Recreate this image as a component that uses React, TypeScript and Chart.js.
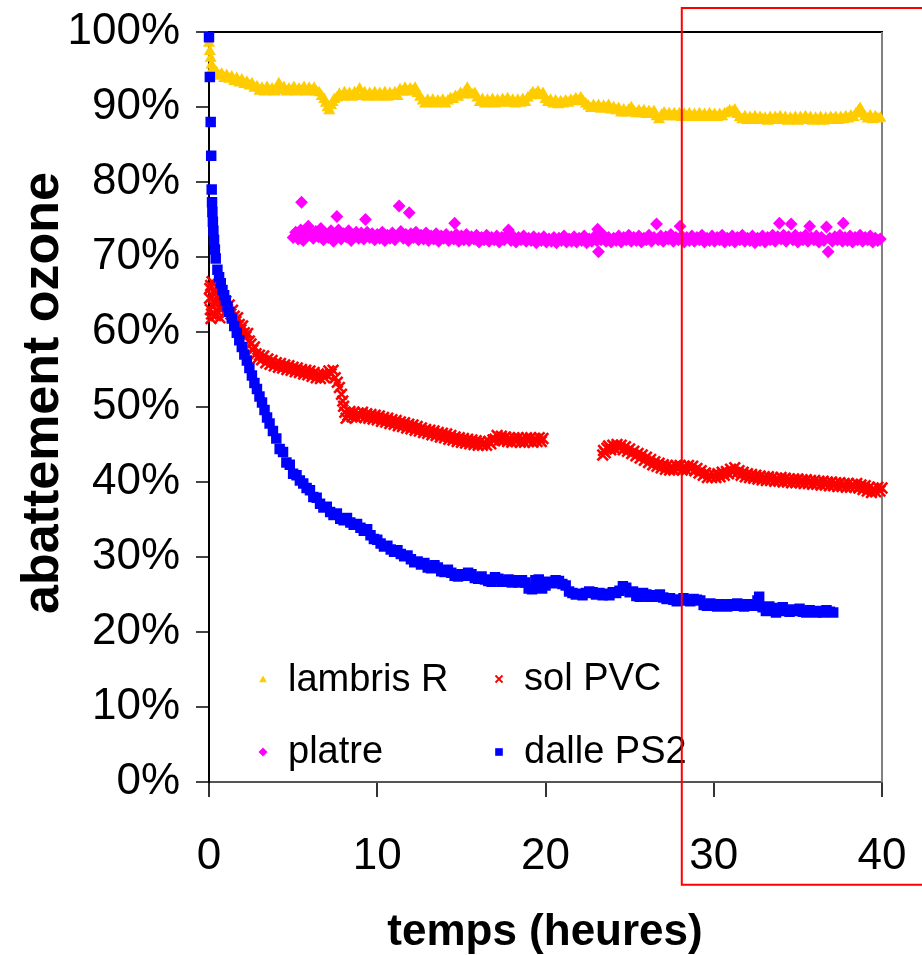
import React, { useEffect, useRef } from 'react';
import { Chart, registerables } from 'chart.js';

Chart.register(...registerables);

// ---- data: [hours, % ozone abatement] ----
const lambrisR: [number, number][] = [
  [0,98.5],[0.05,97.4],[0.1,96.5],[0.15,95.6],[0.2,95.0],[0.3,94.5],[0.45,94.6],[0.6,94.1],[0.75,94.4],[0.9,93.8],
  [1.05,94.2],[1.2,93.7],[1.35,94.0],[1.5,93.4],[1.65,93.8],[1.8,93.2],[1.95,93.6],[2.1,93.0],[2.25,93.3],[2.4,92.8],
  [2.55,93.1],[2.7,92.5],[2.85,92.7],[3.0,92.1],[3.15,92.5],[3.3,92.0],[3.45,92.6],[3.6,92.1],[3.75,92.4],[3.9,92.0],
  [4.05,92.6],[4.15,93.1],[4.3,92.2],[4.45,92.6],[4.6,92.0],[4.75,92.4],[4.9,92.1],[5.05,92.6],[5.2,92.0],[5.35,92.4],
  [5.5,92.1],[5.65,92.6],[5.8,92.0],[5.95,92.5],[6.1,92.1],[6.25,92.5],[6.4,92.0],[6.55,91.9],[6.7,91.4],[6.85,91.0],
  [6.95,90.5],[7.05,89.9],[7.15,89.5],[7.25,90.2],[7.35,90.6],[7.45,91.0],[7.6,91.2],[7.75,91.7],[7.9,91.3],[8.05,91.9],
  [8.2,91.4],[8.35,91.8],[8.5,91.3],[8.65,91.9],[8.8,91.5],[8.95,92.4],[9.1,91.4],[9.25,91.9],[9.4,91.3],[9.55,91.8],
  [9.7,91.4],[9.85,91.9],[10.0,91.3],[10.15,91.8],[10.3,91.4],[10.45,91.9],[10.6,91.3],[10.75,91.8],[10.9,91.5],[11.05,91.9],
  [11.2,91.4],[11.35,92.3],[11.5,92.0],[11.65,92.5],[11.8,92.0],[11.95,92.4],[12.1,92.1],[12.25,92.5],[12.4,91.8],[12.55,91.3],
  [12.7,90.8],[12.85,90.4],[13.0,90.9],[13.15,90.5],[13.3,90.9],[13.45,90.4],[13.6,90.8],[13.75,90.5],[13.9,90.9],[14.05,90.4],
  [14.2,90.8],[14.35,91.1],[14.5,91.0],[14.65,91.4],[14.8,91.3],[14.95,91.8],[15.1,91.6],[15.25,92.1],[15.35,92.5],[15.5,91.9],
  [15.65,91.6],[15.8,91.8],[15.95,91.2],[16.1,90.6],[16.25,91.0],[16.4,90.4],[16.55,90.9],[16.7,90.5],[16.85,91.0],[17.0,90.4],
  [17.15,90.9],[17.3,90.5],[17.45,91.0],[17.6,90.6],[17.75,91.1],[17.9,90.5],[18.05,90.9],[18.2,90.4],[18.35,90.9],[18.5,90.5],
  [18.65,91.0],[18.8,90.6],[18.95,91.2],[19.1,91.5],[19.25,91.9],[19.4,91.6],[19.55,92.0],[19.7,91.5],[19.85,91.8],[20.0,91.0],
  [20.15,90.6],[20.3,90.9],[20.45,90.4],[20.6,90.8],[20.75,90.3],[20.9,90.7],[21.05,90.4],[21.2,90.8],[21.35,90.5],[21.5,90.9],
  [21.65,90.7],[21.8,91.1],[21.95,90.8],[22.1,91.2],[22.25,90.7],[22.4,90.4],[22.55,90.1],[22.7,89.8],[22.85,90.2],[23.0,89.8],
  [23.15,90.2],[23.3,89.7],[23.45,90.1],[23.6,89.8],[23.75,90.2],[23.9,89.6],[24.05,89.9],[24.2,89.5],[24.35,89.8],[24.5,89.2],
  [24.65,89.6],[24.8,89.2],[24.95,89.6],[25.1,89.9],[25.25,89.4],[25.4,89.1],[25.55,89.5],[25.7,89.1],[25.85,89.5],[26.0,89.0],
  [26.15,89.4],[26.3,89.0],[26.45,89.4],[26.6,88.7],[26.75,88.3],[26.9,88.9],[27.05,89.2],[27.2,88.7],[27.35,89.1],[27.5,88.7],
  [27.65,89.1],[27.8,88.7],[27.95,89.1],[28.1,88.6],[28.25,89.0],[28.4,88.7],[28.55,89.1],[28.7,88.6],[28.85,89.0],[29.0,88.6],
  [29.15,89.1],[29.3,88.7],[29.45,89.0],[29.6,88.6],[29.75,89.1],[29.9,88.7],[30.05,89.0],[30.2,88.6],[30.35,89.0],[30.5,88.7],
  [30.65,89.1],[30.8,89.2],[30.95,89.5],[31.1,89.3],[31.25,89.6],[31.4,89.0],[31.55,88.6],[31.7,88.3],[31.85,88.7],[32.0,88.2],
  [32.15,88.6],[32.3,88.3],[32.45,88.7],[32.6,88.2],[32.75,88.6],[32.9,88.3],[33.05,88.5],[33.2,88.1],[33.35,88.6],[33.5,88.2],
  [33.65,88.6],[33.8,88.3],[33.95,88.7],[34.1,88.2],[34.25,88.6],[34.4,88.1],[34.55,88.5],[34.7,88.2],[34.85,88.6],[35.0,88.1],
  [35.15,88.6],[35.3,88.2],[35.45,88.7],[35.6,88.3],[35.75,88.6],[35.9,88.1],[36.05,88.5],[36.2,88.2],[36.35,88.6],[36.5,88.1],
  [36.65,88.5],[36.8,88.2],[36.95,88.6],[37.1,88.3],[37.25,88.6],[37.4,88.2],[37.55,88.6],[37.7,88.3],[37.85,88.7],[38.0,88.4],
  [38.15,88.8],[38.3,88.6],[38.45,89.1],[38.6,89.5],[38.7,89.8],[38.85,89.1],[39.0,88.7],[39.15,88.4],[39.3,88.8],[39.45,88.3],
  [39.6,88.7],[39.75,88.4],[39.9,88.5]
];

const solPVC: [number, number][] = [
  [0.03,64.5],[0.05,65.8],[0.08,63],[0.1,66.2],[0.12,61.8],[0.15,62.4],[0.18,66.7],[0.2,64.8],[0.25,63.5],[0.3,65.5],
  [0.35,64],[0.4,62.2],[0.45,66],[0.5,64.6],[0.55,62.6],[0.6,63.2],[0.65,61.9],[0.7,65.2],[0.75,63.5],[0.8,64],
  [0.9,63.4],[1,64.1],[1.1,63],[1.2,63.6],[1.3,62.4],[1.4,62.9],[1.5,62.1],[1.6,61.4],[1.7,61.9],[1.8,61],
  [1.9,60.3],[2,60.8],[2.1,59.9],[2.2,59.4],[2.3,59.8],[2.4,58.8],[2.5,58.4],[2.6,57.6],[2.7,58],[2.8,57.1],
  [2.9,56.5],[3.0,56.9],[3.125,56.3],[3.25,56.8],[3.375,55.9],[3.5,56.4],[3.625,55.7],[3.75,56.2],[3.875,55.5],[4.0,55.9],
  [4.125,55.3],[4.25,55.8],[4.375,55.2],[4.5,55.6],[4.625,55.0],[4.75,55.5],[4.875,54.9],[5.0,55.3],[5.125,54.7],[5.25,55.2],
  [5.375,54.6],[5.5,55.0],[5.625,54.4],[5.75,54.9],[5.875,54.3],[6.0,54.8],[6.125,54.1],[6.25,54.6],[6.375,53.9],[6.5,54.4],
  [6.625,53.8],[6.75,54.4],[6.875,53.9],[7.0,54.3],[7.125,54.8],[7.25,54.4],[7.375,54.9],[7.5,53.9],[7.625,53.3],[7.75,52.6],
  [7.875,51.7],[7.95,50.8],[8.0,50.1],[8.075,49.3],[8.15,48.5],[8.25,48.9],[8.375,49.4],[8.5,48.7],[8.625,49.3],[8.75,48.6],
  [8.875,49.2],[9.0,48.7],[9.125,49.3],[9.25,48.6],[9.375,49.1],[9.5,48.5],[9.625,49.0],[9.75,48.4],[9.875,48.9],[10.0,48.3],
  [10.125,48.8],[10.25,48.1],[10.375,48.6],[10.5,48.0],[10.625,48.5],[10.75,47.8],[10.875,48.3],[11.0,47.7],[11.125,48.2],[11.25,47.5],
  [11.375,48.0],[11.5,47.4],[11.625,47.9],[11.75,47.2],[11.875,47.7],[12.0,47.1],[12.125,47.6],[12.25,46.9],[12.375,47.4],[12.5,46.8],
  [12.625,47.2],[12.75,46.6],[12.875,47.0],[13.0,46.5],[13.125,46.9],[13.25,46.3],[13.375,46.8],[13.5,46.2],[13.625,46.6],[13.75,46.0],
  [13.875,46.5],[14.0,45.9],[14.125,46.4],[14.25,45.7],[14.375,46.2],[14.5,45.6],[14.625,46.0],[14.75,45.4],[14.875,45.9],[15.0,45.3],
  [15.125,45.8],[15.25,45.2],[15.375,45.7],[15.5,45.1],[15.625,45.6],[15.75,45.0],[15.875,45.5],[16.0,44.9],[16.125,45.4],[16.25,44.9],
  [16.375,45.3],[16.5,44.9],[16.625,45.4],[16.75,45.1],[16.875,45.6],[17.0,45.7],[17.125,46.2],[17.25,45.6],[17.375,46.1],[17.5,45.5],
  [17.625,46.0],[17.75,45.4],[17.875,45.9],[18.0,45.3],[18.125,45.9],[18.25,45.4],[18.375,45.9],[18.5,45.3],[18.625,45.8],[18.75,45.3],
  [18.875,45.9],[19.0,45.4],[19.125,45.9],[19.25,45.3],[19.375,45.8],[19.5,45.4],[19.625,45.9],[19.75,45.4],[19.85,45.8],
  [23.4,43.6],[23.45,44.2],[23.55,43.9],[23.65,44.5],[23.75,44.8],[23.875,44.3],[24.0,44.9],[24.125,44.4],[24.25,45.0],[24.375,44.5],
  [24.5,44.9],[24.625,44.3],[24.75,44.7],[24.875,44.1],[25.0,44.4],[25.125,43.8],[25.25,44.1],[25.375,43.5],[25.5,43.8],[25.625,43.2],
  [25.75,43.6],[25.875,42.9],[26.0,43.3],[26.125,42.6],[26.25,43.0],[26.375,42.3],[26.5,42.7],[26.625,42.1],[26.75,42.5],[26.875,41.9],
  [27.0,42.3],[27.125,41.7],[27.25,42.2],[27.375,41.6],[27.5,42.1],[27.625,41.6],[27.75,42.2],[27.875,41.7],[28.0,42.2],[28.125,41.6],
  [28.25,42.1],[28.375,41.6],[28.5,42.2],[28.625,41.7],[28.75,42.1],[28.875,41.5],[29.0,41.8],[29.125,41.2],[29.25,41.5],[29.375,40.9],
  [29.5,41.2],[29.625,40.6],[29.75,41.0],[29.875,40.6],[30.0,41.0],[30.125,40.6],[30.25,41.1],[30.375,40.7],[30.5,41.3],[30.625,40.9],
  [30.75,41.4],[30.875,41.1],[31.0,41.7],[31.125,41.3],[31.25,41.9],[31.375,41.2],[31.5,41.5],[31.625,40.9],[31.75,41.3],[31.875,40.7],
  [32.0,41.1],[32.125,40.6],[32.25,41.0],[32.375,40.5],[32.5,40.9],[32.625,40.4],[32.75,40.8],[32.875,40.3],[33.0,40.7],[33.125,40.2],
  [33.25,40.7],[33.375,40.2],[33.5,40.6],[33.625,40.1],[33.75,40.5],[33.875,40.1],[34.0,40.6],[34.125,40.0],[34.25,40.5],[34.375,40.0],
  [34.5,40.4],[34.625,39.9],[34.75,40.4],[34.875,39.9],[35.0,40.4],[35.125,39.9],[35.25,40.3],[35.375,39.8],[35.5,40.3],[35.625,39.8],
  [35.75,40.2],[35.875,39.7],[36.0,40.2],[36.125,39.7],[36.25,40.1],[36.375,39.6],[36.5,40.1],[36.625,39.6],[36.75,40.0],[36.875,39.5],
  [37.0,40.0],[37.125,39.5],[37.25,39.9],[37.375,39.4],[37.5,39.9],[37.625,39.4],[37.75,39.8],[37.875,39.3],[38.0,39.8],[38.125,39.3],
  [38.25,39.7],[38.375,39.3],[38.5,39.8],[38.625,39.2],[38.75,39.6],[38.875,39.0],[39.0,39.5],[39.125,38.8],[39.25,39.3],[39.375,38.6],
  [39.5,39.1],[39.625,38.7],[39.75,39.3],[39.875,38.8],[40.0,39.2]
];

const platre: [number, number][] = [
  [5.0,72.6],[5.15,73.3],[5.3,72.4],[5.45,73.6],[5.5,77.3],[5.6,72.2],[5.75,73.1],[5.9,74.1],[6.05,72.9],[6.2,72.5],
  [6.35,73.4],[6.5,72.7],[6.65,73.8],[6.8,72.3],[6.95,73.0],[7.1,72.6],[7.25,73.5],[7.4,72.1],[7.55,72.9],[7.6,75.4],
  [7.7,73.6],[7.85,72.4],[8.0,73.1],[8.15,72.7],[8.3,73.5],[8.45,72.2],[8.6,72.8],[8.75,73.3],[8.9,72.5],[9.05,73.2],
  [9.2,72.4],[9.3,75.0],[9.4,73.3],[9.55,72.6],[9.7,73.1],[9.85,72.3],[10.0,73.0],[10.15,72.5],[10.3,73.3],[10.45,72.2],
  [10.6,72.9],[10.75,72.5],[10.9,73.2],[11.05,72.3],[11.2,72.8],[11.3,76.8],[11.4,73.4],[11.55,72.5],[11.7,73.0],[11.85,72.2],
  [11.9,75.9],[12.0,73.1],[12.15,72.6],[12.3,73.3],[12.45,72.3],[12.6,72.9],[12.75,72.4],[12.9,73.2],[13.05,72.2],[13.2,72.8],
  [13.35,72.4],[13.5,73.1],[13.65,72.1],[13.8,72.8],[13.95,72.5],[14.1,73.0],[14.25,72.2],[14.4,72.7],[14.55,72.4],[14.6,74.5],
  [14.7,73.0],[14.85,72.1],[15.0,72.8],[15.15,72.3],[15.3,73.0],[15.45,72.2],[15.6,72.7],[15.75,72.4],[15.9,72.9],[16.05,72.0],
  [16.2,72.6],[16.35,72.3],[16.5,72.9],[16.65,72.1],[16.8,72.6],[16.95,72.3],[17.1,72.8],[17.25,72.0],[17.4,72.6],[17.55,72.3],
  [17.7,72.9],[17.8,73.6],[17.95,72.2],[18.1,72.7],[18.25,72.0],[18.4,72.6],[18.55,72.3],[18.7,72.8],[18.85,72.1],[19.0,72.5],
  [19.15,72.2],[19.3,72.7],[19.45,71.9],[19.6,72.5],[19.75,72.2],[19.9,72.7],[20.05,72.0],[20.2,72.4],[20.35,72.1],[20.5,72.6],
  [20.65,71.9],[20.8,72.5],[20.95,72.2],[21.1,72.8],[21.25,72.0],[21.4,72.4],[21.55,72.1],[21.7,72.7],[21.85,72.0],[22.0,72.5],
  [22.15,72.2],[22.3,72.8],[22.45,71.9],[22.6,72.4],[22.75,72.1],[22.9,72.7],[23.05,72.2],[23.1,73.7],[23.15,70.7],[23.3,72.3],
  [23.45,72.9],[23.6,72.1],[23.75,72.6],[23.9,72.0],[24.05,72.5],[24.2,72.2],[24.35,72.8],[24.5,72.0],[24.65,72.6],[24.8,72.3],
  [24.95,72.9],[25.1,72.1],[25.25,72.6],[25.4,72.2],[25.55,72.8],[25.7,72.0],[25.85,72.5],[26.0,72.3],[26.15,72.9],[26.3,72.1],
  [26.45,72.6],[26.6,74.4],[26.7,72.3],[26.85,72.8],[27.0,72.1],[27.15,72.7],[27.3,72.4],[27.45,73.0],[27.6,72.1],[27.75,72.6],
  [27.9,72.3],[28.0,74.1],[28.1,72.8],[28.25,72.0],[28.4,72.6],[28.55,72.2],[28.7,72.8],[28.85,72.1],[29.0,72.6],[29.15,72.3],
  [29.3,72.9],[29.45,72.0],[29.6,72.5],[29.75,72.2],[29.9,72.8],[30.05,72.1],[30.2,72.6],[30.35,72.3],[30.5,72.9],[30.65,72.0],
  [30.8,72.5],[30.95,72.2],[31.1,72.8],[31.25,72.0],[31.4,72.6],[31.55,72.3],[31.7,72.9],[31.85,72.1],[32.0,72.5],[32.15,72.2],
  [32.3,72.8],[32.45,71.9],[32.6,72.5],[32.75,72.2],[32.9,72.8],[33.05,72.0],[33.2,72.6],[33.35,72.3],[33.5,72.9],[33.65,72.1],
  [33.8,72.7],[33.9,74.5],[34.0,72.4],[34.15,72.9],[34.3,72.1],[34.45,72.7],[34.6,74.4],[34.7,72.3],[34.85,72.9],[35.0,72.0],
  [35.15,72.6],[35.3,72.3],[35.45,72.9],[35.6,72.1],[35.7,74.1],[35.8,72.6],[35.95,72.3],[36.1,72.8],[36.25,72.0],[36.4,72.6],
  [36.55,72.2],[36.7,74.0],[36.8,70.7],[36.9,72.5],[37.05,72.1],[37.2,72.7],[37.35,72.3],[37.5,72.9],[37.65,72.1],[37.7,74.5],
  [37.8,72.6],[37.95,72.2],[38.1,72.8],[38.25,72.0],[38.4,72.6],[38.55,72.3],[38.7,72.9],[38.85,72.1],[39.0,72.6],[39.15,72.3],
  [39.3,72.8],[39.45,72.0],[39.6,72.5],[39.75,72.2],[39.9,72.4]
];

const dallePS2: [number, number][] = [
  [0,99.3],[0.05,94],[0.1,88],[0.13,83.5],[0.16,79],[0.18,77.3],[0.2,76],[0.23,74.7],[0.26,73.5],[0.3,72.3],
  [0.35,71],[0.4,69.8],[0.5,68.3],[0.6,67.3],[0.7,66.5],[0.8,65.6],[0.9,64.9],[1,64.2],[1.1,63.4],[1.2,62.7],
  [1.35,61.8],[1.5,60.8],[1.65,59.9],[1.8,58.9],[1.95,58],[2.1,57],[2.25,56.2],[2.4,55.2],[2.55,54.2],[2.7,53.2],
  [2.85,52.4],[3,51.4],[3.15,50.6],[3.3,49.6],[3.45,48.6],[3.6,47.8],[3.8,46.8],[4.0,45.8],[4.2,44.4],[4.4,44.0],
  [4.6,42.6],[4.8,42.3],[5.0,41.1],[5.2,40.9],[5.4,40.2],[5.6,39.8],[5.8,39.2],[6.0,38.9],[6.2,38.0],[6.4,37.9],
  [6.6,37.1],[6.8,36.6],[7.0,36.7],[7.2,36.0],[7.4,35.6],[7.6,35.8],[7.8,35.1],[8.0,34.9],[8.2,35.2],[8.4,34.6],
  [8.6,34.3],[8.8,34.4],[9.0,33.9],[9.2,33.5],[9.4,33.7],[9.6,32.9],[9.8,32.4],[10.0,32.3],[10.2,31.8],[10.4,31.4],
  [10.6,31.5],[10.8,31.0],[11.0,30.7],[11.2,30.9],[11.4,30.4],[11.6,30.1],[11.8,30.2],[12.0,29.7],[12.2,29.3],[12.4,29.4],
  [12.6,29.0],[12.8,29.2],[13.0,28.6],[13.2,28.5],[13.4,28.9],[13.6,28.6],[13.8,28.1],[14.0,28.0],[14.2,28.3],[14.4,27.9],
  [14.6,27.5],[14.8,27.4],[15.0,27.7],[15.2,27.5],[15.4,27.9],[15.6,27.7],[15.8,27.2],[16.0,27.1],[16.2,27.4],[16.4,27.0],
  [16.6,26.8],[16.8,26.7],[17.0,27.3],[17.2,27.1],[17.4,26.7],[17.6,26.8],[17.8,27.0],[18.0,26.6],[18.2,26.9],[18.4,26.6],
  [18.6,26.9],[18.8,26.6],[19.0,25.8],[19.2,25.7],[19.4,26.9],[19.6,27.0],[19.8,25.8],[20.0,26.2],[20.2,26.7],[20.4,26.5],
  [20.6,26.9],[20.8,26.8],[21.0,26.4],[21.2,26.2],[21.4,25.4],[21.6,25.2],[21.8,25.0],[22.0,25.1],[22.2,24.9],[22.4,25.2],
  [22.6,25.4],[22.8,25.3],[23.0,25.0],[23.2,25.2],[23.4,24.9],[23.6,25.1],[23.8,24.9],[24.0,25.3],[24.2,25.2],[24.4,25.5],
  [24.6,26.1],[24.8,25.9],[25.0,25.3],[25.2,25.4],[25.4,24.8],[25.6,24.7],[25.8,25.2],[26.0,25.0],[26.2,24.7],[26.4,24.9],
  [26.6,24.7],[26.8,25.0],[27.0,24.6],[27.2,24.4],[27.4,24.5],[27.6,24.3],[27.8,24.1],[28.0,24.3],[28.2,24.5],[28.4,24.2],
  [28.6,24.1],[28.8,24.4],[29.0,24.3],[29.2,24.2],[29.4,23.6],[29.6,23.5],[29.8,23.8],[30.0,23.6],[30.2,23.4],[30.4,23.7],
  [30.6,23.6],[30.8,23.4],[31.0,23.7],[31.2,23.5],[31.4,23.8],[31.6,23.5],[31.8,23.4],[32.0,23.7],[32.2,23.6],[32.4,23.5],
  [32.6,24.2],[32.7,24.7],[32.9,23.3],[33.1,22.8],[33.3,23.4],[33.5,23.2],[33.7,22.6],[33.9,22.8],[34.1,23.3],[34.3,22.9],
  [34.5,22.7],[34.7,23.0],[34.9,22.8],[35.1,23.1],[35.3,22.7],[35.5,22.6],[35.7,22.9],[35.9,22.7],[36.1,22.6],[36.3,22.8],
  [36.5,22.6],[36.7,22.9],[36.9,22.7],[37.1,22.6]
];

const seriesNames = ['lambris R', 'sol PVC', 'platre', 'dalle PS2'];
const xRange = [0, 40];
const yRange = [0, 100];
const xStep = 10;
const yStep = 10;
const xTitle = 'temps (heures)';
const yTitle = 'abattement ozone';
// highlighted region (data units): hours from/to, % from/to
const highlightX = [28.1, 43];
const highlightY = [103.2, -13.7];

const FONT = "'Liberation Sans', Arial, sans-serif";
const COLORS = { lambris: '#FFCC00', sol: '#FF0000', platre: '#FF00FF', dalle: '#0000FF' };

const toPts = (arr: [number, number][]) => arr.map(([x, y]) => ({ x, y }));

function drawMarker(ctx: CanvasRenderingContext2D, kind: string, x: number, y: number, s: number, color: string) {
  ctx.save();
  ctx.fillStyle = color;
  ctx.strokeStyle = color;
  ctx.beginPath();
  if (kind === 'triangle') {
    ctx.moveTo(x, y - s);
    ctx.lineTo(x + s * 0.87, y + s * 0.5);
    ctx.lineTo(x - s * 0.87, y + s * 0.5);
    ctx.closePath();
    ctx.fill();
  } else if (kind === 'cross') {
    ctx.lineWidth = 1.8;
    ctx.moveTo(x - s, y - s); ctx.lineTo(x + s, y + s);
    ctx.moveTo(x + s, y - s); ctx.lineTo(x - s, y + s);
    ctx.stroke();
  } else if (kind === 'diamond') {
    ctx.moveTo(x, y - s); ctx.lineTo(x + s, y); ctx.lineTo(x, y + s); ctx.lineTo(x - s, y);
    ctx.closePath();
    ctx.fill();
  } else {
    ctx.fillRect(x - s, y - s, 2 * s, 2 * s);
  }
  ctx.restore();
}

const decorPlugin = {
  id: 'decor',
  beforeDatasetsDraw(chart: any) {
    const { ctx, chartArea: a } = chart;
    ctx.save();
    ctx.lineWidth = 2;
    ctx.strokeStyle = '#000';
    ctx.beginPath(); ctx.moveTo(a.left, a.top); ctx.lineTo(a.right + 1, a.top); ctx.stroke();
    ctx.strokeStyle = '#808080';
    ctx.beginPath(); ctx.moveTo(a.right, a.top); ctx.lineTo(a.right, a.bottom); ctx.stroke();
    ctx.restore();
  },
  afterDraw(chart: any) {
    const { ctx, scales } = chart;
    const xs = scales.x, ys = scales.y;
    ctx.save();
    // legend
    const items = [
      { kind: 'triangle', color: COLORS.lambris, mx: 263, my: 680, s: 4.5 },
      { kind: 'cross', color: COLORS.sol, mx: 499, my: 679, s: 3.5 },
      { kind: 'diamond', color: COLORS.platre, mx: 263, my: 752, s: 4.5 },
      { kind: 'square', color: COLORS.dalle, mx: 499, my: 752, s: 3.8 },
    ];
    ctx.font = `38px ${FONT}`;
    ctx.fillStyle = '#000';
    ctx.textBaseline = 'middle';
    ctx.textAlign = 'left';
    items.forEach((it, i) => {
      drawMarker(ctx, it.kind, it.mx, it.my, it.s, it.color);
      ctx.fillStyle = '#000';
      ctx.fillText(seriesNames[i], it.mx + 25, it.my + 1);
    });
    // axis titles
    ctx.font = `bold 44px ${FONT}`;
    ctx.textAlign = 'center';
    ctx.textBaseline = 'alphabetic';
    ctx.fillText(xTitle, 545, 945);
    ctx.save();
    ctx.translate(58, 393);
    ctx.rotate(-Math.PI / 2);
    ctx.font = `bold 52px ${FONT}`;
    ctx.fillText(yTitle, 0, 0);
    ctx.restore();
    // highlight rectangle
    const x1 = xs.getPixelForValue(highlightX[0]);
    const x2 = xs.getPixelForValue(highlightX[1]);
    const y1 = ys.getPixelForValue(highlightY[0]);
    const y2 = ys.getPixelForValue(highlightY[1]);
    ctx.strokeStyle = '#FF0000';
    ctx.lineWidth = 2;
    ctx.strokeRect(x1, y1, x2 - x1, y2 - y1);
    ctx.restore();
  },
};

export default function App() {
  const ref = useRef<HTMLCanvasElement | null>(null);
  useEffect(() => {
    if (!ref.current) return;
    const chart = new Chart(ref.current, {
      type: 'scatter',
      data: {
        datasets: [
          {
            label: seriesNames[3], data: toPts(dallePS2), pointStyle: 'rect', pointRadius: 7.4,
            backgroundColor: COLORS.dalle, borderColor: COLORS.dalle, borderWidth: 0, clip: false as any,
          },
          {
            label: seriesNames[1], data: toPts(solPVC), pointStyle: 'crossRot', pointRadius: 7.5,
            backgroundColor: COLORS.sol, borderColor: COLORS.sol, borderWidth: 2.6, clip: false as any,
          },
          {
            label: seriesNames[2], data: toPts(platre), pointStyle: 'rectRot', pointRadius: 6.4,
            backgroundColor: COLORS.platre, borderColor: COLORS.platre, borderWidth: 0, clip: false as any,
          },
          {
            label: seriesNames[0], data: toPts(lambrisR), pointStyle: 'triangle', pointRadius: 7,
            backgroundColor: COLORS.lambris, borderColor: COLORS.lambris, borderWidth: 0, clip: false as any,
          },
        ],
      },
      options: {
        animation: false,
        responsive: false,
        maintainAspectRatio: false,
        events: [],
        layout: { autoPadding: false, padding: { left: 0, top: 32, right: 40, bottom: 0 } },
        plugins: { legend: { display: false }, tooltip: { enabled: false }, title: { display: false } },
        scales: {
          x: {
            type: 'linear', min: xRange[0], max: xRange[1],
            ticks: {
              stepSize: xStep, autoSkip: false, maxRotation: 0, padding: 33, color: '#000',
              font: { family: FONT, size: 44 },
            },
            grid: { drawOnChartArea: false, drawTicks: true, tickLength: 15, color: '#333', lineWidth: 2 },
            border: { display: true, color: '#555', width: 2 },
            afterFit: (s: any) => {
              s.height = 173;
              s.paddingLeft = 0; s.paddingRight = 0; s.paddingTop = 0; s.paddingBottom = 0;
            },
          },
          y: {
            type: 'linear', min: yRange[0], max: yRange[1],
            ticks: {
              stepSize: yStep, autoSkip: false, padding: 16, color: '#000',
              font: { family: FONT, size: 44 },
              callback: (v: any) => `${v}%`,
            },
            grid: { drawOnChartArea: false, drawTicks: true, tickLength: 13, color: '#444', lineWidth: 2 },
            border: { display: true, color: '#000', width: 2 },
            afterFit: (s: any) => {
              s.width = 209;
              s.paddingLeft = 0; s.paddingRight = 0; s.paddingTop = 0; s.paddingBottom = 0;
            },
          },
        },
      } as any,
      plugins: [decorPlugin],
    });
    return () => chart.destroy();
  }, []);
  return (
    <div style={{ position: 'absolute', left: 0, top: 0, width: 922, height: 955, background: '#fff' }}>
      <canvas ref={ref} width={922} height={955} style={{ display: 'block', width: 922, height: 955 }} />
    </div>
  );
}
